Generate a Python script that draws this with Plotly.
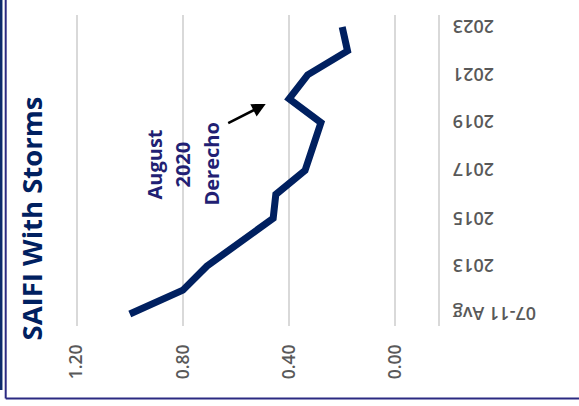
import plotly.graph_objects as go

# SAIFI (with storms) by period
categories = ["07-11 Avg", "2012", "2013", "2014", "2015", "2016", "2017",
              "2018", "2019", "2020", "2021", "2022", "2023"]
saifi = [1.00, 0.80, 0.71, 0.59, 0.46, 0.45, 0.34, 0.31, 0.28, 0.40, 0.33, 0.18, 0.20]
label_cats = categories[::2]
value_ticks = [0.0, 0.4, 0.8, 1.2]

W, H = 579, 406
L, R, T, B = 60, 438, 15, 326
ZERO_PX, PX_PER_UNIT = 395.3, 265.5


def px(x):
    return (x - L) / (R - L)


def py(y):
    return (B - y) / (B - T)


NAVY = "#002060"
INDIGO = "#221f73"
GRAY = "#595959"
GRID = "#d9d9d9"

fig = go.Figure()
fig.add_trace(go.Scatter(
    x=saifi, y=categories, mode="lines",
    line=dict(color=NAVY, width=7),
    hoverinfo="skip", showlegend=False,
))

fig.update_layout(
    width=W, height=H,
    margin=dict(l=L, r=W - R, t=T, b=H - B, pad=0),
    paper_bgcolor="white", plot_bgcolor="white",
    xaxis=dict(
        range=[(ZERO_PX - L) / PX_PER_UNIT, (ZERO_PX - R) / PX_PER_UNIT],
        tickvals=value_ticks, tickformat=".2f",
        tickangle=-90, showgrid=True, gridcolor=GRID, gridwidth=1.5,
        zeroline=False, showline=False, ticks="",
        ticklabelstandoff=14,
        tickfont=dict(family="Open Sans", size=17.5, color=GRAY, weight=600),
    ),
    yaxis=dict(
        type="category", categoryorder="array", categoryarray=categories,
        range=[-0.5, len(categories) - 0.5],
        side="right", showticklabels=False, showgrid=False, zeroline=False,
        showline=True, linecolor=GRID, linewidth=1.5, ticks="",
    ),
)

# category labels, drawn upside down to the right of the axis line
for cat in label_cats:
    fig.add_annotation(
        text=cat, xref="paper", yref="y", x=px(451),
        y=categories.index(cat),
        xanchor="left", yanchor="middle", showarrow=False, textangle=180,
        font=dict(family="Open Sans", size=18, color=GRAY, weight=600),
    )

# chart title, running up the left side
fig.add_annotation(
    text="<b>SAIFI With Storms</b>", xref="paper", yref="paper",
    x=px(31), y=py(218.5), xanchor="center", yanchor="middle",
    showarrow=False, textangle=-90,
    font=dict(family="Open Sans", size=27.5, color=NAVY),
)

# event callout
for txt, cx in [("August", 154), ("2020", 182), ("Derecho", 211)]:
    fig.add_annotation(
        text=f"<b>{txt}</b>", xref="paper", yref="paper",
        x=px(cx), y=py(164.5), xanchor="center", yanchor="middle",
        showarrow=False, textangle=-90,
        font=dict(family="Open Sans", size=20, color=INDIGO),
    )

fig.add_annotation(
    text="", xref="paper", yref="paper", x=px(265.7), y=py(104),
    ax=-39, ay=20, showarrow=True, arrowhead=2, arrowsize=1.1,
    arrowwidth=2.5, arrowcolor="black", standoff=0,
)

# frame lines
fig.add_shape(type="line", xref="paper", yref="paper",
              x0=px(1.2), x1=px(1.2), y0=py(0), y1=py(390),
              line=dict(color="#0d2a6a", width=2.5))
fig.add_shape(type="line", xref="paper", yref="paper",
              x0=px(5.7), x1=px(5.7), y0=py(0), y1=py(398.5),
              line=dict(color="#2b2a82", width=2))
fig.add_shape(type="line", xref="paper", yref="paper",
              x0=px(5.7), x1=px(W), y0=py(398.5), y1=py(398.5),
              line=dict(color="#2b2a82", width=2))

fig.write_html("out.html")
